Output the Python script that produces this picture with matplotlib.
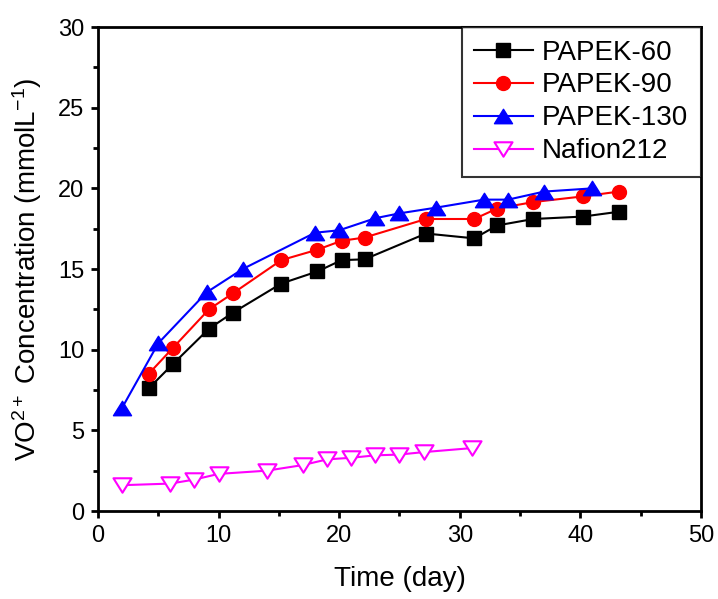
import matplotlib
matplotlib.use("Agg")
import matplotlib.pyplot as plt
from matplotlib.path import Path
from matplotlib.ticker import MultipleLocator

plt.rcParams["font.family"] = ["Liberation Sans", "DejaVu Sans"]
plt.rcParams["mathtext.fontset"] = "custom"
plt.rcParams["mathtext.rm"] = "Liberation Sans"
plt.rcParams["mathtext.it"] = "Liberation Sans:italic"
plt.rcParams["mathtext.bf"] = "Liberation Sans:bold"

# ---- data ----
t_60 = [4.2, 6.2, 9.2, 11.2, 15.2, 18.2, 20.2, 22.1, 27.2, 31.2, 33.1, 36.1, 40.2, 43.2]
c_60 = [7.6, 9.1, 11.3, 12.3, 14.1, 14.85, 15.55, 15.6, 17.2, 16.9, 17.7, 18.1, 18.25, 18.55]

t_90 = [4.2, 6.2, 9.2, 11.2, 15.2, 18.2, 20.2, 22.1, 27.2, 31.2, 33.1, 36.1, 40.2, 43.2]
c_90 = [8.5, 10.1, 12.5, 13.5, 15.55, 16.2, 16.75, 16.95, 18.1, 18.1, 18.75, 19.15, 19.5, 19.8]

t_130 = [2, 5, 9, 12, 18, 20, 23, 25, 28, 32, 34, 37, 41]
c_130 = [6.4, 10.4, 13.55, 15.0, 17.25, 17.4, 18.15, 18.45, 18.8, 19.3, 19.3, 19.8, 20.0]

t_naf = [2, 6, 8, 10, 14, 17, 19, 21, 23, 25, 27, 31]
c_naf = [1.6, 1.7, 1.95, 2.3, 2.5, 2.85, 3.2, 3.3, 3.45, 3.5, 3.65, 3.9]

labels = ["PAPEK-60", "PAPEK-90", "PAPEK-130", "Nafion212"]

# wide, flat triangles like Origin's
TRI_UP = Path([(0, 0.8), (-1, -0.8), (1, -0.8), (0, 0.8)], closed=True)
TRI_DN = Path([(0, -0.8), (-1, 0.8), (1, 0.8), (0, -0.8)], closed=True)

fig = plt.figure(figsize=(7.18, 5.99), dpi=100)
ax = fig.add_axes([0.1365, 0.1469, 0.9763 - 0.1365, 0.9549 - 0.1469])

lw = 1.5
ax.plot(t_60, c_60, color="black", lw=lw, marker="s", ms=9.5, label=labels[0])
ax.plot(t_90, c_90, color="red", lw=lw, marker="o", ms=10, label=labels[1])
ax.plot(t_130, c_130, color="blue", lw=lw, marker=TRI_UP, ms=13, label=labels[2])
ax.plot(t_naf, c_naf, color="magenta", lw=lw, marker=TRI_DN, ms=13,
        mfc="white", mec="magenta", mew=1.5, label=labels[3])

ax.set_xlim(0, 50)
ax.set_ylim(0, 30)
ax.xaxis.set_major_locator(MultipleLocator(10))
ax.xaxis.set_minor_locator(MultipleLocator(5))
ax.yaxis.set_major_locator(MultipleLocator(5))
ax.yaxis.set_minor_locator(MultipleLocator(2.5))

for s in ax.spines.values():
    s.set_linewidth(2.0)
ax.tick_params(which="both", direction="out", width=2.0, top=False, right=False,
               labelsize=17)
ax.tick_params(which="major", length=5, pad=5)
ax.tick_params(which="minor", length=3.5)

ax.set_xlabel("Time (day)", fontsize=20, labelpad=14)
ax.set_ylabel(r"VO$^{2+}$ Concentration (mmolL$^{-1}$)", fontsize=20, labelpad=10)

leg = ax.legend(loc="upper right", bbox_to_anchor=(1, 1), borderaxespad=0,
                fontsize=20, handlelength=2.1, handletextpad=0.35,
                labelspacing=0.25, borderpad=0.45, fancybox=False)
leg.get_frame().set_edgecolor("black")
leg.get_frame().set_linewidth(1.5)

fig.savefig("out.png", dpi=100)
